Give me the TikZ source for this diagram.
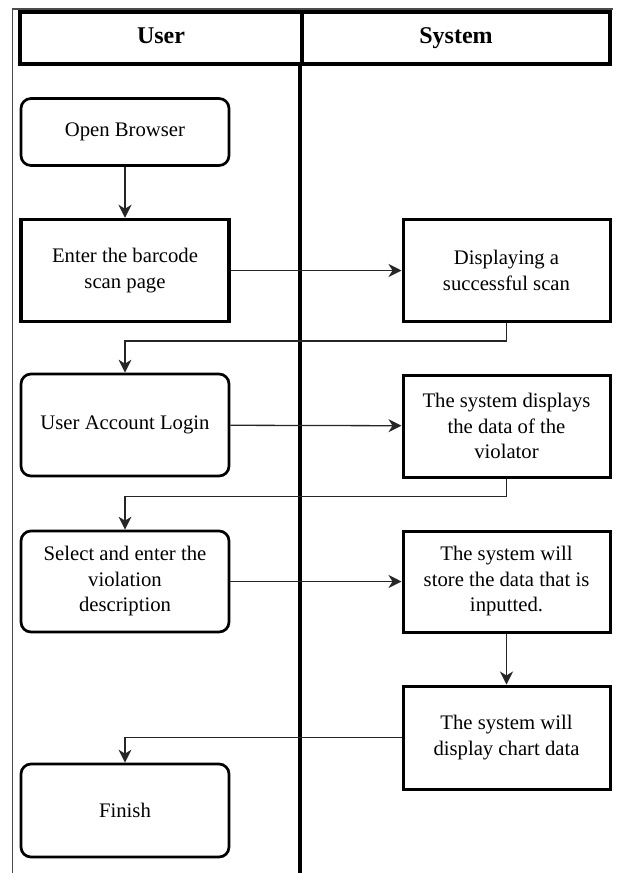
\documentclass[tikz,border=0pt]{standalone}
\usepackage{fontspec}
\setmainfont{Liberation Serif}
\usetikzlibrary{arrows.meta}
\begin{document}
\begin{tikzpicture}[x=1pt,y=-1pt,
    head/.style={draw,line width=4pt,minimum height=52pt,inner sep=0pt,text height=16pt,text depth=5pt,font=\fontsize{24}{28}\selectfont\bfseries},
    ubox/.style={draw,line width=2.7pt,rounded corners=10pt,minimum width=208pt,inner sep=0pt,align=center,font=\fontsize{20.7}{25.5}\selectfont},
    sbox/.style={draw,line width=3pt,minimum width=207pt,inner sep=0pt,align=center,font=\fontsize{20.7}{25.5}\selectfont},
    flow/.style={black!85,line width=1.3pt,-{Stealth[length=13pt,width=13pt,inset=4pt]}},
    lane/.style={line width=4.3pt}]
        \useasboundingbox (0,0) rectangle (618,873);
        \coordinate (bottom) at (0,873);
        \draw[black!70,line width=1.3pt] (12.5,873)--(12.5,9)--(613,9);

        \node[head,minimum width=282pt] (huser) at (161,38) {User};
        \node[head,minimum width=308pt] (hsys) at (456,38) {System};
        \draw[lane] (hsys.south west)--(hsys.south west |- bottom);

        \node[ubox,minimum height=67pt] (open) at (125,132) {Open Browser};
        \node[sbox,line width=3.5pt,minimum width=208pt,minimum height=102pt] (enter) at (125,270.5) {Enter the barcode\\scan page};
        \node[ubox,minimum height=102pt] (login) at (125,425) {User Account Login};
        \node[ubox,minimum height=101pt] (select) at (125,581.5) {Select and enter the\\violation\\description};
        \node[ubox,minimum height=93pt] (finish) at (125,810.5) {Finish};

        \node[sbox,minimum height=102pt] (scan) at (506.5,270.5) {Displaying a\\successful scan};
        \node[sbox,minimum height=102pt] (violator) at (506.5,426) {The system displays\\the data of the\\violator};
        \node[sbox,minimum height=101pt] (store) at (506.5,581.5) {The system will\\store the data that is\\inputted.};
        \node[sbox,minimum height=103pt] (chart) at (506.5,737.5) {The system will\\display chart data};

        \draw[flow] (open)--(enter);
        \draw[flow] (enter)--(scan);
        \draw[flow] (scan.south)--++(0,18)-|(login.north);
        \draw[flow] (login)--(violator);
        \draw[flow] (violator.south)--++(0,18)-|(select.north);
        \draw[flow] (select)--(store);
        \draw[flow] (store)--(chart);
        \draw[flow] (chart.west)-|(finish.north);
    \end{tikzpicture}
\end{document}
